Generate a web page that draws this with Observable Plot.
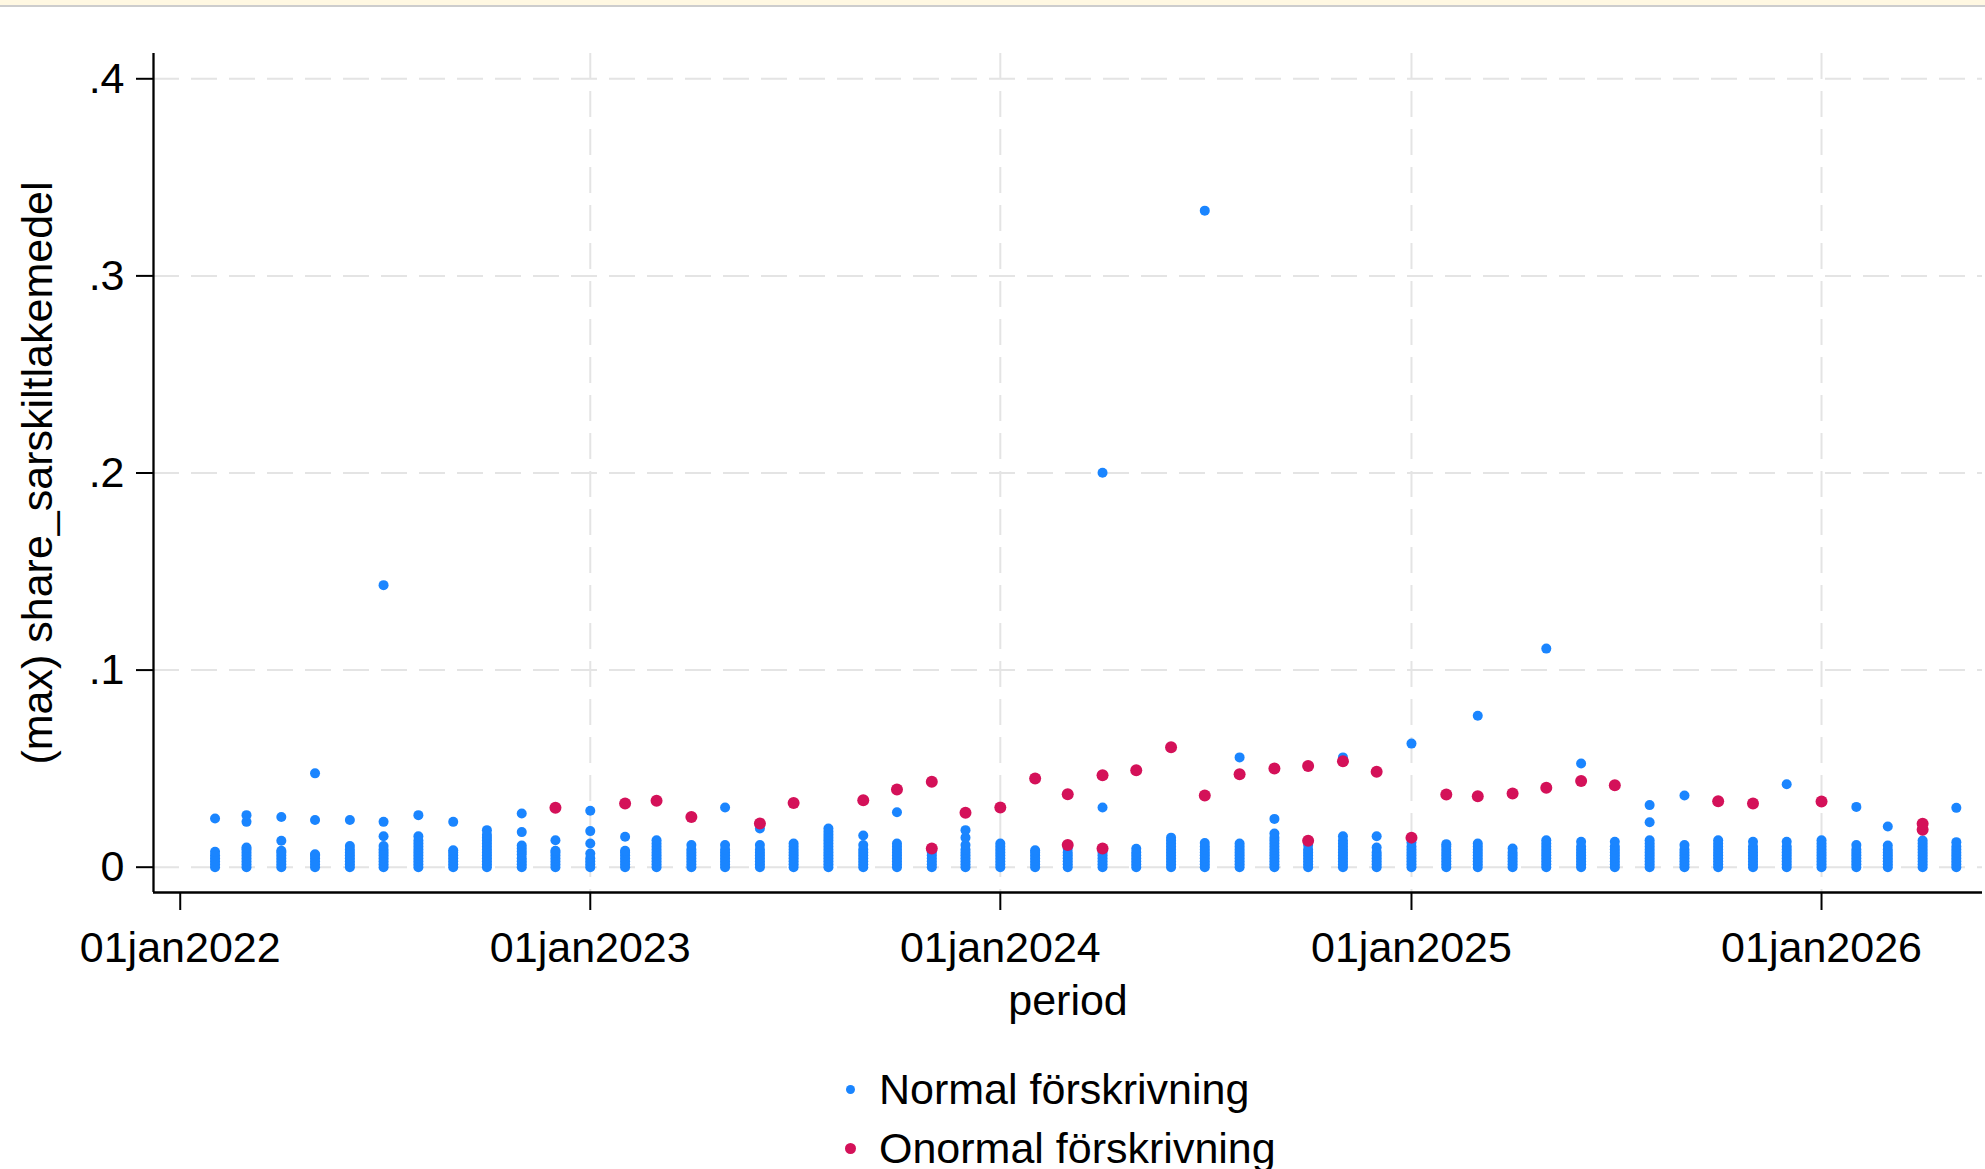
<!DOCTYPE html>
<html>
<head>
<meta charset="utf-8">
<script src="https://cdn.jsdelivr.net/npm/d3@7"></script>
<script src="https://cdn.jsdelivr.net/npm/@observablehq/plot@0.6"></script>
<style>
html, body { margin: 0; padding: 0; background: #ffffff; width: 1985px; height: 1169px; overflow: hidden; font-family: "Liberation Sans", Arial, sans-serif; }
#band { position: absolute; left: 0; top: 0; width: 1985px; height: 5px; background: #fff8e2; border-bottom: 2px solid #cdcdcd; z-index: 5; }
#chart { position: absolute; left: 0; top: 0; }
.leg { position: absolute; font-size: 43px; line-height: 43px; color: #000; white-space: nowrap; }
.dot { position: absolute; border-radius: 50%; }
</style>
</head>
<body>
<div id="band"></div>
<div id="chart"></div>
<div id="legend"></div>
<script>
// ---- data ----
const months = [
  "2022-02","2022-03","2022-04","2022-05","2022-06","2022-07","2022-08","2022-09","2022-10","2022-11","2022-12",
  "2023-01","2023-02","2023-03","2023-04","2023-05","2023-06","2023-07","2023-08","2023-09","2023-10","2023-11","2023-12",
  "2024-01","2024-02","2024-03","2024-04","2024-05","2024-06","2024-07","2024-08","2024-09","2024-10","2024-11","2024-12",
  "2025-01","2025-02","2025-03","2025-04","2025-05","2025-06","2025-07","2025-08","2025-09","2025-10","2025-11","2025-12",
  "2026-01","2026-02","2026-03","2026-04","2026-05"
];

// Normal förskrivning (blue) – values per month
const normalValues = [
  [0,.0015,.003,.0045,.006,.0078,.0247],
  [0,.0015,.003,.0045,.006,.0075,.009,.010,.023,.0264],
  [0,.0015,.003,.0045,.006,.0075,.0083,.0134,.0255],
  [0,.0015,.003,.0045,.006,.0066,.0239,.0476],
  [0,.0015,.003,.0045,.006,.0075,.009,.0107,.0239],
  [0,.0015,.003,.0045,.006,.0075,.009,.0107,.0157,.023,.1431],
  [0,.0015,.003,.0045,.006,.0075,.009,.0105,.012,.0135,.0157,.0264],
  [0,.0015,.003,.0045,.006,.0075,.0086,.023],
  [0,.0015,.003,.0045,.006,.0075,.009,.0105,.012,.0135,.015,.0165,.0188],
  [0,.0015,.003,.0045,.0065,.008,.0095,.011,.0178,.0272],
  [0,.0015,.003,.0045,.006,.0075,.0083,.0137],
  [0,.0015,.003,.0045,.0069,.012,.0183,.0286],
  [0,.0015,.003,.0045,.006,.0075,.0083,.0154],
  [0,.0015,.003,.0045,.006,.0075,.009,.0105,.012,.0137],
  [0,.0015,.003,.0045,.006,.0075,.009,.0112],
  [0,.0015,.003,.0045,.006,.0075,.009,.0112,.0303],
  [0,.0015,.003,.0045,.006,.0075,.009,.0112,.0196],
  [0,.0015,.003,.0045,.006,.0075,.009,.0105,.012],
  [0,.0015,.003,.0045,.006,.0075,.009,.0105,.012,.0135,.015,.0165,.018,.0196],
  [0,.0015,.003,.0045,.006,.0075,.009,.0112,.0161],
  [0,.0015,.003,.0045,.006,.0075,.009,.0105,.012,.0279],
  [0,.0015,.003,.0045,.006,.0075,.0086],
  [0,.0015,.003,.0045,.006,.0075,.009,.0112,.015,.0188],
  [0,.0015,.003,.0045,.006,.0075,.009,.0105,.012],
  [0,.0015,.003,.0045,.006,.0075,.0086],
  [0,.0015,.003,.0045,.006,.0075,.0095],
  [0,.0015,.003,.0045,.006,.0075,.009,.0303,.2001],
  [0,.0015,.003,.0045,.006,.0075,.0093],
  [0,.0015,.003,.0045,.006,.0075,.009,.0105,.012,.0135,.015],
  [0,.0015,.003,.0045,.006,.0075,.009,.0105,.0123,.3331],
  [0,.0015,.003,.0045,.006,.0075,.009,.0105,.012,.0557],
  [0,.0015,.003,.0045,.006,.0075,.009,.0105,.012,.0135,.015,.0171,.0245],
  [0,.0015,.003,.0045,.006,.0075,.009,.0112],
  [0,.0015,.003,.0045,.006,.0075,.009,.0105,.012,.0135,.0157,.0557],
  [0,.0015,.003,.0045,.006,.0075,.010,.0157],
  [0,.0015,.003,.0045,.006,.0075,.009,.0105,.0125,.0627],
  [0,.0015,.003,.0045,.006,.0075,.009,.0105,.0117],
  [0,.0015,.003,.0045,.006,.0075,.009,.0105,.012,.0768],
  [0,.0015,.003,.0045,.006,.0075,.0095],
  [0,.0015,.003,.0045,.006,.0075,.009,.0105,.012,.0137,.1109],
  [0,.0015,.003,.0045,.006,.0075,.009,.0105,.0129,.0526],
  [0,.0015,.003,.0045,.006,.0075,.009,.0105,.0129],
  [0,.0015,.003,.0045,.006,.0075,.009,.0105,.012,.0137,.0228,.0315],
  [0,.0015,.003,.0045,.006,.0075,.009,.0112,.0364],
  [0,.0015,.003,.0045,.006,.0075,.009,.0105,.012,.0137],
  [0,.0015,.003,.0045,.006,.0075,.009,.0105,.0129],
  [0,.0015,.003,.0045,.006,.0075,.009,.0105,.0129,.0421],
  [0,.0015,.003,.0045,.006,.0075,.009,.0105,.012,.0137],
  [0,.0015,.003,.0045,.006,.0075,.009,.0112,.0306],
  [0,.0015,.003,.0045,.006,.0075,.009,.011,.0206],
  [0,.0015,.003,.0045,.006,.0075,.009,.0105,.012,.0135],
  [0,.0015,.003,.0045,.006,.0075,.009,.0105,.0127,.0301]
];

// Onormal förskrivning (red) – values per month
const onormalValues = [
  [],[],[],[],[],[],[],[],[],[],
  [.0301],
  [],
  [.0323],
  [.0337],
  [.0255],
  [],
  [.0222],
  [.0326],
  [],
  [.034],
  [.0394],
  [.0095,.0433],
  [.0276],
  [.0303],
  [.045],
  [.0112,.037],
  [.0095,.0467],
  [.0492],
  [.0608],
  [.0364],
  [.0472],
  [.0501],
  [.0134,.0513],
  [.0538],
  [.0484],
  [.015],
  [.0369],
  [.036],
  [.0374],
  [.0403],
  [.0437],
  [.0416],
  [],
  [],
  [.0335],
  [.0323],
  [],
  [.0333],
  [],
  [],
  [.019,.022],
  []
];

const seriesNames = ["Normal förskrivning", "Onormal förskrivning"];
const seriesColors = ["#1a85ff", "#d41159"];
const xTickDates = ["2022-01-01","2023-01-01","2024-01-01","2025-01-01","2026-01-01"];
const xTickLabels = ["01jan2022","01jan2023","01jan2024","01jan2025","01jan2026"];
const xGridDates = ["2023-01-01","2024-01-01","2025-01-01","2026-01-01"];
const yTicks = [0, .1, .2, .3, .4];
const yTickLabels = ["0", ".1", ".2", ".3", ".4"];
const xTitle = "period";
const yTitle = "(max) share_sarskiltlakemedel";

// ---- build tables ----
const parseMonth = d3.utcParse("%Y-%m");
const parseDay = d3.utcParse("%Y-%m-%d");
const normalData = [];
months.forEach((m, i) => normalValues[i].forEach(v => normalData.push({date: parseMonth(m), value: v})));
const onormalData = [];
months.forEach((m, i) => onormalValues[i].forEach(v => onormalData.push({date: parseMonth(m), value: v})));
const tickDates = xTickDates.map(parseDay);
const gridDates = xGridDates.map(parseDay);
const xLabelMap = new Map(tickDates.map((d, i) => [+d, xTickLabels[i]]));
const yLabelMap = new Map(yTicks.map((d, i) => [d, yTickLabels[i]]));

const xDomain = [new Date(Date.UTC(2021, 11, 8, 5)), new Date(Date.UTC(2026, 4, 24, 7))];
const yDomain = [-0.01284, 0.41283];
const font = "Liberation Sans, Arial, sans-serif";
const gridStyle = {stroke: "#e4e4e4", strokeOpacity: 1, strokeWidth: 2, strokeDasharray: "26,12"};

const chart = Plot.plot({
  width: 1985,
  height: 1040,
  marginLeft: 153,
  marginTop: 53,
  marginRight: 3,
  marginBottom: 148,
  style: {fontFamily: font, fontSize: "43px", color: "#000", background: "transparent", overflow: "visible"},
  x: {type: "utc", domain: xDomain},
  y: {type: "linear", domain: yDomain},
  marks: [
    Plot.gridY(yTicks, gridStyle),
    Plot.gridX(gridDates, gridStyle),
    Plot.axisY(yTicks, {tickSize: 17, tickPadding: 12, strokeWidth: 2, tickFormat: d => yLabelMap.get(d), fontSize: 43, label: null}),
    Plot.axisX(tickDates, {tickSize: 18, tickPadding: 21, strokeWidth: 2, tickFormat: d => xLabelMap.get(+d), fontSize: 43, label: null}),
    Plot.ruleX([xDomain[0]], {stroke: "#000", strokeWidth: 2.3}),
    Plot.ruleY([yDomain[0]], {stroke: "#000", strokeWidth: 2.3}),
    Plot.dot(normalData, {x: "date", y: "value", r: 5, fill: seriesColors[0], stroke: "none"}),
    Plot.dot(onormalData, {x: "date", y: "value", r: 6, fill: seriesColors[1], stroke: "none"}),
    Plot.text([xTitle], {text: d => d, frameAnchor: "bottom", lineAnchor: "middle", textAnchor: "middle", dy: 109, fontSize: 43, fill: "#000"}),
    Plot.text([yTitle], {text: d => d, frameAnchor: "left", lineAnchor: "middle", textAnchor: "middle", rotate: -90, dx: -115, fontSize: 43, fill: "#000"})
  ]
});
document.getElementById("chart").appendChild(chart);

// ---- legend ----
const legend = document.getElementById("legend");
const legendRows = [{cy: 1089, r: 4.5}, {cy: 1148, r: 5.5}];
seriesNames.forEach((name, i) => {
  const {cy, r} = legendRows[i];
  const dot = document.createElement("div");
  dot.className = "dot";
  dot.style.left = (850 - r) + "px";
  dot.style.top = (cy - r) + "px";
  dot.style.width = dot.style.height = (2 * r) + "px";
  dot.style.background = seriesColors[i];
  legend.appendChild(dot);
  const t = document.createElement("div");
  t.className = "leg";
  t.style.left = "879px";
  t.style.top = (cy - 21) + "px";
  t.textContent = name;
  legend.appendChild(t);
});
</script>
</body>
</html>
